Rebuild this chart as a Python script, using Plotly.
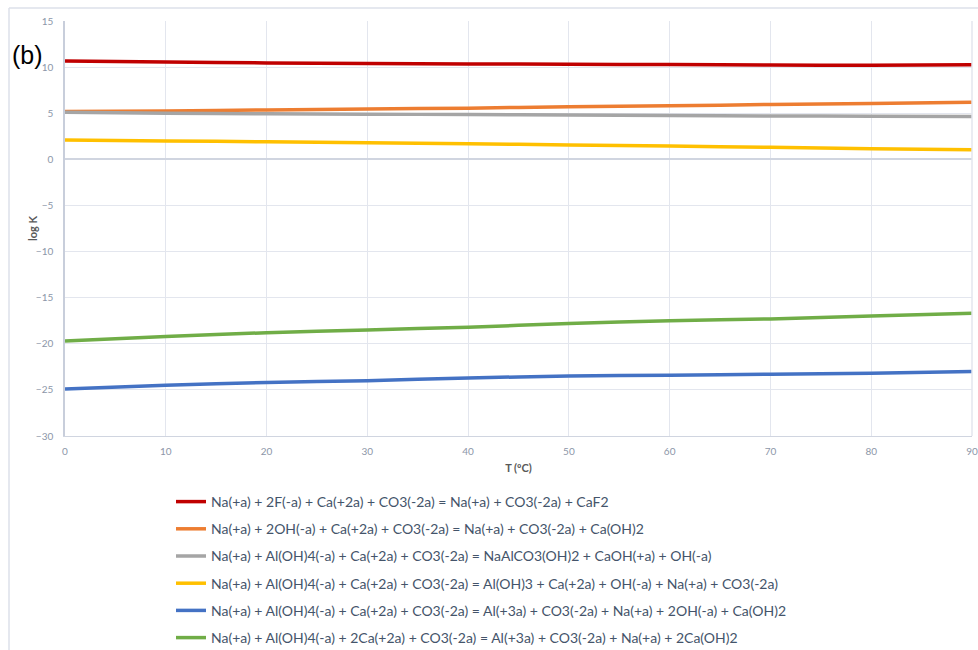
import plotly.graph_objects as go

# Temperature grid (ºC)
temperature = [0, 10, 20, 30, 40, 50, 60, 70, 80, 90]

# log K of each reaction at the temperatures above
logk_caf2 = [10.65, 10.55, 10.45, 10.4, 10.35, 10.3, 10.28, 10.22, 10.2, 10.25]
logk_caoh2 = [5.2, 5.25, 5.35, 5.45, 5.55, 5.7, 5.8, 5.95, 6.05, 6.2]
logk_naalco3 = [5.1, 5.0, 4.95, 4.9, 4.85, 4.8, 4.75, 4.7, 4.68, 4.65]
logk_aloh3 = [2.1, 2.0, 1.9, 1.8, 1.7, 1.55, 1.45, 1.3, 1.15, 1.05]
logk_al3_oh = [-24.9, -24.5, -24.2, -24.0, -23.7, -23.5, -23.4, -23.3, -23.2, -23.0]
logk_al3_2ca = [-19.7, -19.2, -18.8, -18.5, -18.2, -17.8, -17.5, -17.3, -17.0, -16.7]

reactions = [
    "Na(+a) + 2F(-a) + Ca(+2a) + CO3(-2a) = Na(+a) + CO3(-2a) + CaF2",
    "Na(+a) + 2OH(-a) + Ca(+2a) + CO3(-2a) = Na(+a) + CO3(-2a) + Ca(OH)2",
    "Na(+a) + Al(OH)4(-a) + Ca(+2a) + CO3(-2a) = NaAlCO3(OH)2 + CaOH(+a) + OH(-a)",
    "Na(+a) + Al(OH)4(-a) + Ca(+2a) + CO3(-2a) = Al(OH)3 + Ca(+2a) + OH(-a) + Na(+a) + CO3(-2a)",
    "Na(+a) + Al(OH)4(-a) + Ca(+2a) + CO3(-2a) = Al(+3a) + CO3(-2a) + Na(+a) + 2OH(-a) + Ca(OH)2",
    "Na(+a) + Al(OH)4(-a) + 2Ca(+2a) + CO3(-2a) = Al(+3a) + CO3(-2a) + Na(+a) + 2Ca(OH)2",
]
series = [logk_caf2, logk_caoh2, logk_naalco3, logk_aloh3, logk_al3_oh, logk_al3_2ca]
colors = ["#C00000", "#ED7D31", "#A5A5A5", "#FFC000", "#4472C4", "#70AD47"]

fig = go.Figure()
for i, (name, vals, col) in enumerate(zip(reactions, series, colors)):
    fig.add_trace(go.Scatter(
        x=temperature, y=vals, mode="lines", name=name,
        line=dict(color=col, width=3.5, shape="spline", smoothing=0.4),
        legendgroup=f"g{i}",
    ))

W, H = 978, 650
L, R, T, B = 65, 6, 21, 214
pw, ph = W - L - R, H - T - B

def px_x(px):
    return (px - L) / pw

def px_y(py):
    return (H - B - py) / ph

tick_font = dict(family="Lato, sans-serif", size=10, color="#8C96A8")
title_font = dict(family="Lato, sans-serif", size=11, color="#595959")
grid = "#E3E6EE"

fig.update_layout(
    width=W, height=H,
    margin=dict(l=L, r=R, t=T, b=B, autoexpand=False),
    paper_bgcolor="white", plot_bgcolor="white",
    showlegend=True,
    legend=dict(
        xref="container", yref="container",
        x=171 / W, y=1 - 486 / H, xanchor="left", yanchor="top",
        font=dict(family="Lato, sans-serif", size=14, color="#44546A"),
        tracegroupgap=6, itemwidth=30,
    ),
    xaxis=dict(
        range=[0, 90], tickvals=[0, 10, 20, 30, 40, 50, 60, 70, 80, 90],
        showgrid=True, gridcolor=grid, gridwidth=1,
        zeroline=False, showline=True, linecolor="#D0D5E0", linewidth=1,
        mirror=False, tickfont=tick_font, ticks="", ticklen=0,
        ticklabelstandoff=6,
        title=dict(text="<b>T (ºC)</b>", font=title_font, standoff=8),
    ),
    yaxis=dict(
        range=[-30, 15], tickvals=list(range(-30, 16, 5)),
        showgrid=True, gridcolor=grid, gridwidth=1,
        zeroline=True, zerolinecolor="#D0D5E0", zerolinewidth=1.5,
        showline=True, linecolor="#C8CEDB", linewidth=1.5,
        tickfont=tick_font, ticks="", ticklen=0,
        ticklabelstandoff=8,
    ),
    shapes=[
        # outer frame around the chart
        dict(type="line", xref="paper", yref="paper",
             x0=px_x(9), x1=px_x(978), y0=px_y(8), y1=px_y(8),
             line=dict(color="#DDE1EA", width=1.5)),
        dict(type="line", xref="paper", yref="paper",
             x0=px_x(9), x1=px_x(9), y0=px_y(8), y1=px_y(650),
             line=dict(color="#DDE1EA", width=1.5)),
        # plot-area border on the right
        dict(type="line", xref="paper", yref="paper",
             x0=1, x1=1, y0=0, y1=1,
             line=dict(color="#E3E6EE", width=1.5)),
    ],
    annotations=[
        dict(text="(b)", xref="paper", yref="paper",
             x=px_x(10), y=px_y(55), xanchor="left", yanchor="middle",
             showarrow=False,
             font=dict(family="Liberation Sans, Arial, sans-serif", size=25, color="black")),
        # y-axis title
        dict(text="<b>log K</b>", xref="paper", yref="paper",
             x=px_x(33), y=px_y(229), xanchor="center", yanchor="middle",
             textangle=-90, showarrow=False, font=title_font),
    ],
)

fig.write_html("out.html")
